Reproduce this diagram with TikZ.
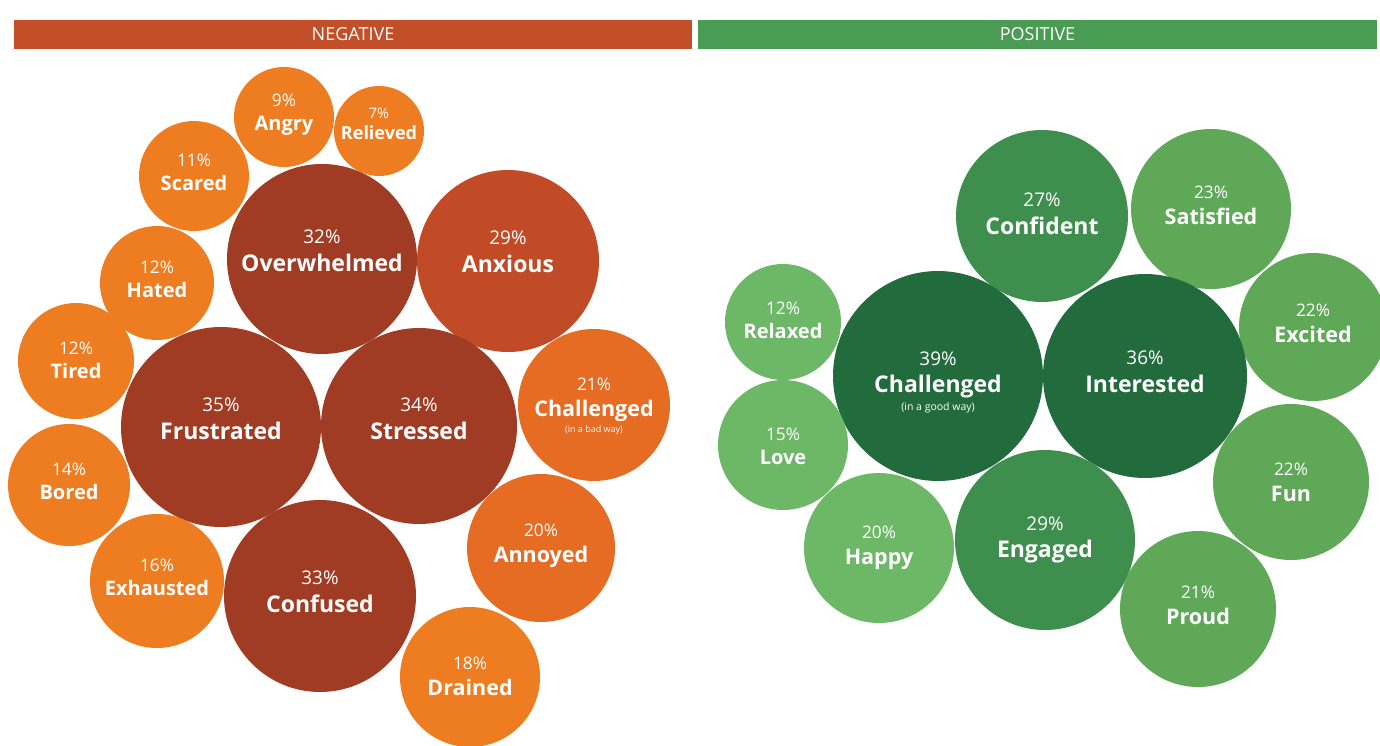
\documentclass[tikz,border=0pt]{standalone}
\usepackage{fontspec}
\usepackage{relsize}
\setmainfont{Open Sans}

\definecolor{negbar}{HTML}{C24F27}
\definecolor{posbar}{HTML}{4A9B53}
\definecolor{orange}{HTML}{EE7D22}
\definecolor{orangered}{HTML}{E66C24}
\definecolor{rust}{HTML}{C14B27}
\definecolor{brick}{HTML}{A13C24}
\definecolor{gdark}{HTML}{226B3D}
\definecolor{gmid}{HTML}{3E8E4D}
\definecolor{glight}{HTML}{5EA857}
\definecolor{gpale}{HTML}{6DB866}

\newcommand{\pct}[1]{{\mdseries\relscale{0.82}#1\%}}

\begin{document}
\begin{tikzpicture}[x=1pt,y=-1pt,
        bubble/.style={circle,inner sep=0pt,fill=#1},
        word/.style={text=white,align=center,inner sep=0pt,yshift=4pt},
        wxs/.style={word,font=\fontsize{18}{21.5}\selectfont\bfseries},
        wsm/.style={word,font=\fontsize{20}{24}\selectfont\bfseries},
        wmd/.style={word,font=\fontsize{21.5}{26}\selectfont\bfseries},
        wlg/.style={word,font=\fontsize{23}{27.5}\selectfont\bfseries},
        bar/.style={fill=#1,text=white,inner sep=0pt,
            font=\fontsize{18}{20}\selectfont,minimum height=29pt,minimum width=678pt}]

    \useasboundingbox (0,0) rectangle (1380,746);

    % Headers
    \node[bar=negbar] (neg) at (353,34.5) {NEGATIVE};
    \node[bar=posbar,minimum width=679pt] (pos) at (1037.5,34.5) {POSITIVE};

    % Negative bubbles
    \node[bubble=orange,minimum size=100pt] (angry) at (284,117) {};
    \node[bubble=orange,minimum size=90pt] (relieved) at (379,131) {};
    \node[bubble=orange,minimum size=110pt] (scared) at (194,176) {};
    \node[bubble=brick,minimum size=190pt] (overwhelmed) at (322,259) {};
    \node[bubble=rust,minimum size=182pt] (anxious) at (508,261) {};
    \node[bubble=orange,minimum size=114pt] (hated) at (157,283) {};
    \node[bubble=orange,minimum size=116pt] (tired) at (76,361) {};
    \node[bubble=brick,minimum size=200pt] (frustrated) at (221,427) {};
    \node[bubble=brick,minimum size=196pt] (stressed) at (419,426) {};
    \node[bubble=orangered,minimum size=152pt] (chalneg) at (594,405) {};
    \node[bubble=orange,minimum size=122pt] (bored) at (69,485) {};
    \node[bubble=orange,minimum size=134pt] (exhausted) at (157,581) {};
    \node[bubble=brick,minimum size=192pt] (confused) at (320,596) {};
    \node[bubble=orangered,minimum size=148pt] (annoyed) at (541,548) {};
    \node[bubble=orange,minimum size=140pt] (drained) at (470,677) {};

    % Positive bubbles
    \node[bubble=gmid,minimum size=172pt] (confident) at (1042,216) {};
    \node[bubble=glight,minimum size=160pt] (satisfied) at (1211,209) {};
    \node[bubble=gpale,minimum size=116pt] (relaxed) at (783,322) {};
    \node[bubble=glight,minimum size=148pt] (excited) at (1313,327) {};
    \node[bubble=gdark,minimum size=210pt] (chalpos) at (938,376) {};
    \node[bubble=gdark,minimum size=204pt] (interested) at (1145,376) {};
    \node[bubble=gpale,minimum size=130pt] (love) at (783,445) {};
    \node[bubble=glight,minimum size=156pt] (fun) at (1291,482) {};
    \node[bubble=gpale,minimum size=150pt] (happy) at (879,548) {};
    \node[bubble=gmid,minimum size=180pt] (engaged) at (1045,540) {};
    \node[bubble=glight,minimum size=156pt] (proud) at (1198,609) {};

    % Labels
    \node[wsm,yshift=-2pt] (angry-t) at (angry) {\pct{9}\\Angry};
    \node[wxs,yshift=3pt] (relieved-t) at (relieved) {\pct{7}\\Relieved};
    \node[wsm] (scared-t) at (scared) {\pct{11}\\Scared};
    \node[wlg,yshift=4pt] (overwhelmed-t) at (overwhelmed) {\pct{32}\\Overwhelmed};
    \node[wlg,yshift=5pt] (anxious-t) at (anxious) {\pct{29}\\Anxious};
    \node[wsm] (hated-t) at (hated) {\pct{12}\\Hated};
    \node[wsm,yshift=-3pt] (tired-t) at (tired) {\pct{12}\\Tired};
    \node[wlg,yshift=4pt] (frustrated-t) at (frustrated) {\pct{35}\\Frustrated};
    \node[wlg,yshift=3pt] (stressed-t) at (stressed) {\pct{34}\\Stressed};
    \node[wmd] (chalneg-t) at ([yshift=-5pt]chalneg) {\pct{21}\\Challenged\\[-10pt]{\mdseries\fontsize{9}{11}\selectfont (in a bad way)}};
    \node[wsm] (bored-t) at (bored) {\pct{14}\\Bored};
    \node[wsm] (exhausted-t) at (exhausted) {\pct{16}\\Exhausted};
    \node[wlg] (confused-t) at (confused) {\pct{33}\\Confused};
    \node[wmd,yshift=-2pt] (annoyed-t) at (annoyed) {\pct{20}\\Annoyed};
    \node[wmd,yshift=-3pt] (drained-t) at (drained) {\pct{18}\\Drained};

    \node[wlg,yshift=-2pt] (confident-t) at (confident) {\pct{27}\\Confident};
    \node[wmd] (satisfied-t) at (satisfied) {\pct{23}\\Satisfied};
    \node[wsm,yshift=-2pt] (relaxed-t) at (relaxed) {\pct{12}\\Relaxed};
    \node[wmd] (excited-t) at (excited) {\pct{22}\\Excited};
    \node[wlg] (chalpos-t) at ([yshift=-10pt]chalpos) {\pct{39}\\Challenged\\[-10pt]{\mdseries\fontsize{10.5}{12}\selectfont (in a good way)}};
    \node[wlg] (interested-t) at (interested) {\pct{36}\\Interested};
    \node[wsm,yshift=-5pt] (love-t) at (love) {\pct{15}\\Love};
    \node[wmd,yshift=-4pt] (fun-t) at (fun) {\pct{22}\\Fun};
    \node[wmd,yshift=-4pt] (happy-t) at (happy) {\pct{20}\\Happy};
    \node[wlg,yshift=-4pt] (engaged-t) at (engaged) {\pct{29}\\Engaged};
    \node[wmd] (proud-t) at (proud) {\pct{21}\\Proud};

\end{tikzpicture}
\end{document}
